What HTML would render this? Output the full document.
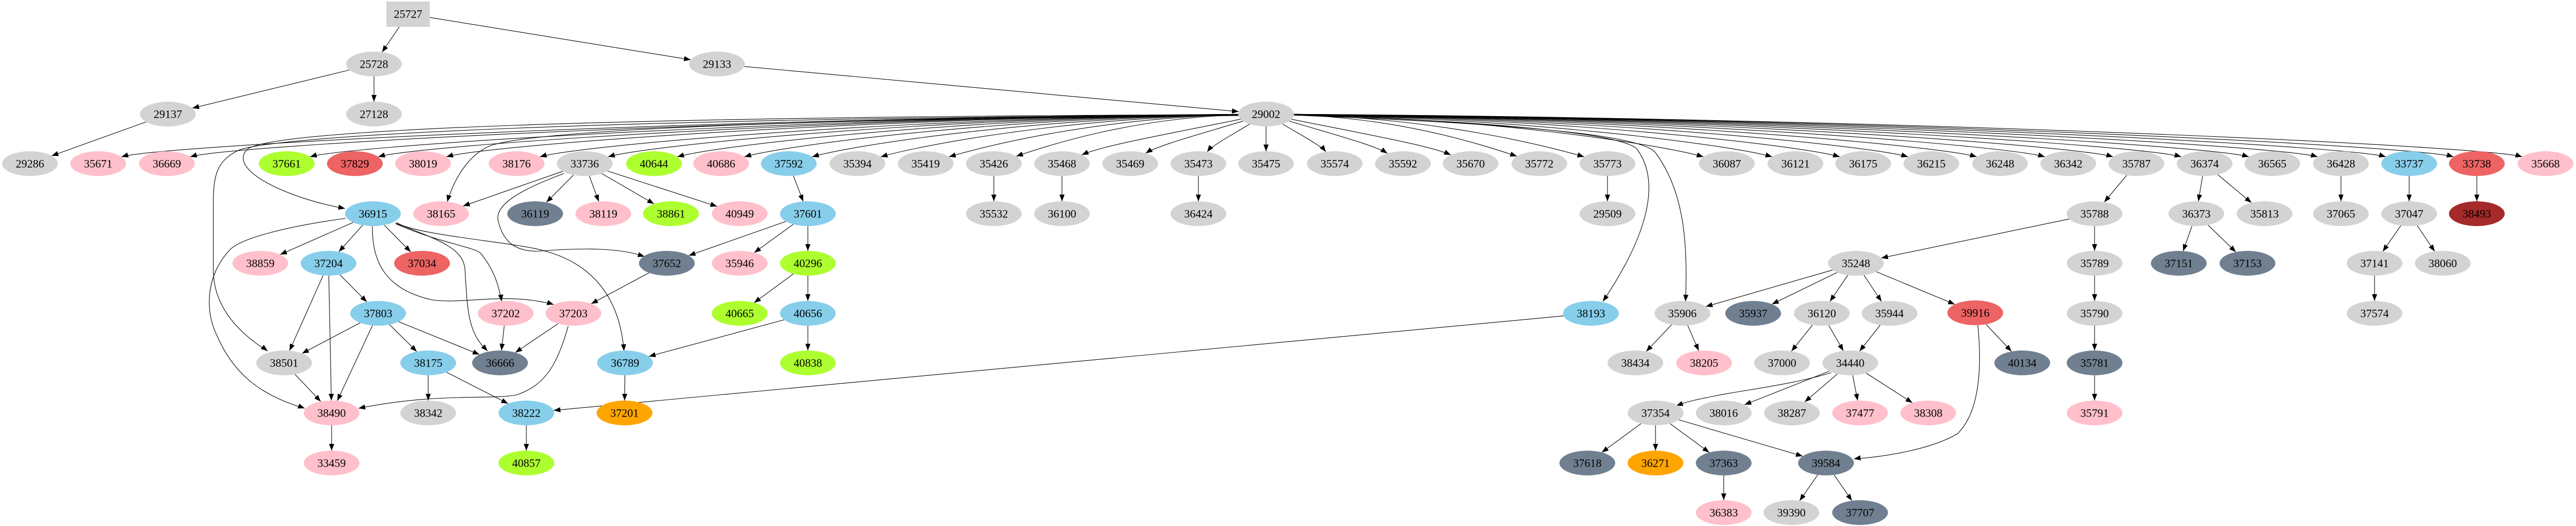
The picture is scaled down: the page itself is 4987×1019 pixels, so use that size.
<!DOCTYPE html>
<html><head><meta charset="utf-8"><style>
html,body{margin:0;padding:0;background:#fff;}
svg{display:block;}
ellipse{rx:54px;ry:24px;}
text{font-family:"Liberation Serif",serif;font-size:22px;text-anchor:middle;dominant-baseline:central;fill:#000;}
</style></head><body>
<svg id="s" width="4987" height="1019" xmlns="http://www.w3.org/2000/svg">
<g id="edges" stroke="#000" stroke-width="1.1" fill="none"></g>
<g id="arrows" fill="#000"></g>
<g id="nodes">
<g id="n25727"><rect x="748" y="3" width="84" height="49" fill="#d3d3d3"/><text x="790" y="27">25727</text></g>
<g id="n25728"><ellipse cx="724" cy="124" fill="#d3d3d3"/><text x="724" y="124">25728</text></g>
<g id="n29133"><ellipse cx="1388" cy="124" fill="#d3d3d3"/><text x="1388" y="124">29133</text></g>
<g id="n29137"><ellipse cx="325" cy="221" fill="#d3d3d3"/><text x="325" y="221">29137</text></g>
<g id="n27128"><ellipse cx="724" cy="221" fill="#d3d3d3"/><text x="724" y="221">27128</text></g>
<g id="n29002"><ellipse cx="2451" cy="221" fill="#d3d3d3"/><text x="2451" y="221">29002</text></g>

<g id="n29286"><ellipse cx="58" cy="317" fill="#d3d3d3"/><text x="58" y="317">29286</text></g>
<g id="n35671"><ellipse cx="190" cy="317" fill="#ffc0cb"/><text x="190" y="317">35671</text></g>
<g id="n36669"><ellipse cx="323" cy="317" fill="#ffc0cb"/><text x="323" y="317">36669</text></g>
<g id="n37661"><ellipse cx="555" cy="317" fill="#adff2f"/><text x="555" y="317">37661</text></g>
<g id="n37829"><ellipse cx="687" cy="317" fill="#ee6363"/><text x="687" y="317">37829</text></g>
<g id="n38019"><ellipse cx="819" cy="317" fill="#ffc0cb"/><text x="819" y="317">38019</text></g>
<g id="n38176"><ellipse cx="1000" cy="317" fill="#ffc0cb"/><text x="1000" y="317">38176</text></g>
<g id="n33736"><ellipse cx="1132" cy="317" fill="#d3d3d3"/><text x="1132" y="317">33736</text></g>
<g id="n40644"><ellipse cx="1266" cy="317" fill="#adff2f"/><text x="1266" y="317">40644</text></g>
<g id="n40686"><ellipse cx="1396" cy="317" fill="#ffc0cb"/><text x="1396" y="317">40686</text></g>
<g id="n37592"><ellipse cx="1527" cy="317" fill="#87ceeb"/><text x="1527" y="317">37592</text></g>
<g id="n35394"><ellipse cx="1660" cy="317" fill="#d3d3d3"/><text x="1660" y="317">35394</text></g>
<g id="n35419"><ellipse cx="1792" cy="317" fill="#d3d3d3"/><text x="1792" y="317">35419</text></g>
<g id="n35426"><ellipse cx="1924" cy="317" fill="#d3d3d3"/><text x="1924" y="317">35426</text></g>
<g id="n35468"><ellipse cx="2056" cy="317" fill="#d3d3d3"/><text x="2056" y="317">35468</text></g>
<g id="n35469"><ellipse cx="2188" cy="317" fill="#d3d3d3"/><text x="2188" y="317">35469</text></g>
<g id="n35473"><ellipse cx="2320" cy="317" fill="#d3d3d3"/><text x="2320" y="317">35473</text></g>
<g id="n35475"><ellipse cx="2451" cy="317" fill="#d3d3d3"/><text x="2451" y="317">35475</text></g>
<g id="n35574"><ellipse cx="2584" cy="317" fill="#d3d3d3"/><text x="2584" y="317">35574</text></g>
<g id="n35592"><ellipse cx="2716" cy="317" fill="#d3d3d3"/><text x="2716" y="317">35592</text></g>
<g id="n35670"><ellipse cx="2847" cy="317" fill="#d3d3d3"/><text x="2847" y="317">35670</text></g>
<g id="n35772"><ellipse cx="2980" cy="317" fill="#d3d3d3"/><text x="2980" y="317">35772</text></g>
<g id="n35773"><ellipse cx="3112" cy="317" fill="#d3d3d3"/><text x="3112" y="317">35773</text></g>
<g id="n36087"><ellipse cx="3343" cy="317" fill="#d3d3d3"/><text x="3343" y="317">36087</text></g>
<g id="n36121"><ellipse cx="3476" cy="317" fill="#d3d3d3"/><text x="3476" y="317">36121</text></g>
<g id="n36175"><ellipse cx="3607" cy="317" fill="#d3d3d3"/><text x="3607" y="317">36175</text></g>
<g id="n36215"><ellipse cx="3739" cy="317" fill="#d3d3d3"/><text x="3739" y="317">36215</text></g>
<g id="n36248"><ellipse cx="3872" cy="317" fill="#d3d3d3"/><text x="3872" y="317">36248</text></g>
<g id="n36342"><ellipse cx="4004" cy="317" fill="#d3d3d3"/><text x="4004" y="317">36342</text></g>
<g id="n35787"><ellipse cx="4136" cy="317" fill="#d3d3d3"/><text x="4136" y="317">35787</text></g>
<g id="n36374"><ellipse cx="4268" cy="317" fill="#d3d3d3"/><text x="4268" y="317">36374</text></g>
<g id="n36565"><ellipse cx="4399" cy="317" fill="#d3d3d3"/><text x="4399" y="317">36565</text></g>
<g id="n36428"><ellipse cx="4532" cy="317" fill="#d3d3d3"/><text x="4532" y="317">36428</text></g>
<g id="n33737"><ellipse cx="4664" cy="317" fill="#87ceeb"/><text x="4664" y="317">33737</text></g>
<g id="n33738"><ellipse cx="4795" cy="317" fill="#ee6363"/><text x="4795" y="317">33738</text></g>
<g id="n35668"><ellipse cx="4928" cy="317" fill="#ffc0cb"/><text x="4928" y="317">35668</text></g>

<g id="n36915"><ellipse cx="722" cy="414" fill="#87ceeb"/><text x="722" y="414">36915</text></g>
<g id="n38165"><ellipse cx="854" cy="414" fill="#ffc0cb"/><text x="854" y="414">38165</text></g>
<g id="n36119"><ellipse cx="1036" cy="414" fill="#708090"/><text x="1036" y="414">36119</text></g>
<g id="n38119"><ellipse cx="1168" cy="414" fill="#ffc0cb"/><text x="1168" y="414">38119</text></g>
<g id="n38861"><ellipse cx="1299" cy="414" fill="#adff2f"/><text x="1299" y="414">38861</text></g>
<g id="n40949"><ellipse cx="1432" cy="414" fill="#ffc0cb"/><text x="1432" y="414">40949</text></g>
<g id="n37601"><ellipse cx="1564" cy="414" fill="#87ceeb"/><text x="1564" y="414">37601</text></g>
<g id="n35532"><ellipse cx="1924" cy="414" fill="#d3d3d3"/><text x="1924" y="414">35532</text></g>
<g id="n36100"><ellipse cx="2056" cy="414" fill="#d3d3d3"/><text x="2056" y="414">36100</text></g>
<g id="n36424"><ellipse cx="2320" cy="414" fill="#d3d3d3"/><text x="2320" y="414">36424</text></g>
<g id="n29509"><ellipse cx="3112" cy="414" fill="#d3d3d3"/><text x="3112" y="414">29509</text></g>
<g id="n35788"><ellipse cx="4055" cy="414" fill="#d3d3d3"/><text x="4055" y="414">35788</text></g>
<g id="n36373"><ellipse cx="4252" cy="414" fill="#d3d3d3"/><text x="4252" y="414">36373</text></g>
<g id="n35813"><ellipse cx="4384" cy="414" fill="#d3d3d3"/><text x="4384" y="414">35813</text></g>
<g id="n37065"><ellipse cx="4532" cy="414" fill="#d3d3d3"/><text x="4532" y="414">37065</text></g>
<g id="n37047"><ellipse cx="4664" cy="414" fill="#d3d3d3"/><text x="4664" y="414">37047</text></g>
<g id="n38493"><ellipse cx="4795" cy="414" fill="#a52a2a"/><text x="4795" y="414">38493</text></g>

<g id="n38859"><ellipse cx="504" cy="510" fill="#ffc0cb"/><text x="504" y="510">38859</text></g>
<g id="n37204"><ellipse cx="636" cy="510" fill="#87ceeb"/><text x="636" y="510">37204</text></g>
<g id="n37034"><ellipse cx="817" cy="510" fill="#ee6363"/><text x="817" y="510">37034</text></g>
<g id="n37652"><ellipse cx="1291" cy="510" fill="#708090"/><text x="1291" y="510">37652</text></g>
<g id="n35946"><ellipse cx="1432" cy="510" fill="#ffc0cb"/><text x="1432" y="510">35946</text></g>
<g id="n40296"><ellipse cx="1564" cy="510" fill="#adff2f"/><text x="1564" y="510">40296</text></g>
<g id="n35248"><ellipse cx="3593" cy="510" fill="#d3d3d3"/><text x="3593" y="510">35248</text></g>
<g id="n35789"><ellipse cx="4055" cy="510" fill="#d3d3d3"/><text x="4055" y="510">35789</text></g>
<g id="n37151"><ellipse cx="4218" cy="510" fill="#708090"/><text x="4218" y="510">37151</text></g>
<g id="n37153"><ellipse cx="4351" cy="510" fill="#708090"/><text x="4351" y="510">37153</text></g>
<g id="n37141"><ellipse cx="4597" cy="510" fill="#d3d3d3"/><text x="4597" y="510">37141</text></g>
<g id="n38060"><ellipse cx="4729" cy="510" fill="#d3d3d3"/><text x="4729" y="510">38060</text></g>

<g id="n37803"><ellipse cx="732" cy="607" fill="#87ceeb"/><text x="732" y="607">37803</text></g>
<g id="n37202"><ellipse cx="979" cy="607" fill="#ffc0cb"/><text x="979" y="607">37202</text></g>
<g id="n37203"><ellipse cx="1110" cy="607" fill="#ffc0cb"/><text x="1110" y="607">37203</text></g>
<g id="n40665"><ellipse cx="1432" cy="607" fill="#adff2f"/><text x="1432" y="607">40665</text></g>
<g id="n40656"><ellipse cx="1564" cy="607" fill="#87ceeb"/><text x="1564" y="607">40656</text></g>
<g id="n38193"><ellipse cx="3080" cy="607" fill="#87ceeb"/><text x="3080" y="607">38193</text></g>
<g id="n35906"><ellipse cx="3257" cy="607" fill="#d3d3d3"/><text x="3257" y="607">35906</text></g>
<g id="n35937"><ellipse cx="3394" cy="607" fill="#708090"/><text x="3394" y="607">35937</text></g>
<g id="n36120"><ellipse cx="3527" cy="607" fill="#d3d3d3"/><text x="3527" y="607">36120</text></g>
<g id="n35944"><ellipse cx="3658" cy="607" fill="#d3d3d3"/><text x="3658" y="607">35944</text></g>
<g id="n39916"><ellipse cx="3824" cy="606" fill="#ee6363"/><text x="3824" y="606">39916</text></g>
<g id="n35790"><ellipse cx="4055" cy="607" fill="#d3d3d3"/><text x="4055" y="607">35790</text></g>
<g id="n37574"><ellipse cx="4597" cy="607" fill="#d3d3d3"/><text x="4597" y="607">37574</text></g>

<g id="n38501"><ellipse cx="550" cy="703" fill="#d3d3d3"/><text x="550" y="703">38501</text></g>
<g id="n38175"><ellipse cx="829" cy="703" fill="#87ceeb"/><text x="829" y="703">38175</text></g>
<g id="n36666"><ellipse cx="968" cy="703" fill="#708090"/><text x="968" y="703">36666</text></g>
<g id="n36789"><ellipse cx="1210" cy="703" fill="#87ceeb"/><text x="1210" y="703">36789</text></g>
<g id="n40838"><ellipse cx="1564" cy="703" fill="#adff2f"/><text x="1564" y="703">40838</text></g>
<g id="n38434"><ellipse cx="3166" cy="703" fill="#d3d3d3"/><text x="3166" y="703">38434</text></g>
<g id="n38205"><ellipse cx="3299" cy="703" fill="#ffc0cb"/><text x="3299" y="703">38205</text></g>
<g id="n37000"><ellipse cx="3450" cy="703" fill="#d3d3d3"/><text x="3450" y="703">37000</text></g>
<g id="n34440"><ellipse cx="3582" cy="703" fill="#d3d3d3"/><text x="3582" y="703">34440</text></g>
<g id="n40134"><ellipse cx="3915" cy="703" fill="#708090"/><text x="3915" y="703">40134</text></g>
<g id="n35781"><ellipse cx="4055" cy="703" fill="#708090"/><text x="4055" y="703">35781</text></g>

<g id="n38490"><ellipse cx="642" cy="800" fill="#ffc0cb"/><text x="642" y="800">38490</text></g>
<g id="n38342"><ellipse cx="829" cy="800" fill="#d3d3d3"/><text x="829" y="800">38342</text></g>
<g id="n38222"><ellipse cx="1019" cy="800" fill="#87ceeb"/><text x="1019" y="800">38222</text></g>
<g id="n37201"><ellipse cx="1209" cy="800" fill="#ffa500"/><text x="1209" y="800">37201</text></g>
<g id="n37354"><ellipse cx="3205" cy="800" fill="#d3d3d3"/><text x="3205" y="800">37354</text></g>
<g id="n38016"><ellipse cx="3337" cy="800" fill="#d3d3d3"/><text x="3337" y="800">38016</text></g>
<g id="n38287"><ellipse cx="3469" cy="800" fill="#d3d3d3"/><text x="3469" y="800">38287</text></g>
<g id="n37477"><ellipse cx="3601" cy="800" fill="#ffc0cb"/><text x="3601" y="800">37477</text></g>
<g id="n38308"><ellipse cx="3733" cy="800" fill="#ffc0cb"/><text x="3733" y="800">38308</text></g>
<g id="n35791"><ellipse cx="4055" cy="800" fill="#ffc0cb"/><text x="4055" y="800">35791</text></g>

<g id="n33459"><ellipse cx="642" cy="897" fill="#ffc0cb"/><text x="642" y="897">33459</text></g>
<g id="n40857"><ellipse cx="1019" cy="897" fill="#adff2f"/><text x="1019" y="897">40857</text></g>
<g id="n37618"><ellipse cx="3073" cy="897" fill="#708090"/><text x="3073" y="897">37618</text></g>
<g id="n36271"><ellipse cx="3205" cy="897" fill="#ffa500"/><text x="3205" y="897">36271</text></g>
<g id="n37363"><ellipse cx="3337" cy="897" fill="#708090"/><text x="3337" y="897">37363</text></g>
<g id="n39584"><ellipse cx="3535" cy="897" fill="#708090"/><text x="3535" y="897">39584</text></g>

<g id="n36383"><ellipse cx="3337" cy="993" fill="#ffc0cb"/><text x="3337" y="993">36383</text></g>
<g id="n39390"><ellipse cx="3468" cy="993" fill="#d3d3d3"/><text x="3468" y="993">39390</text></g>
<g id="n37707"><ellipse cx="3601" cy="993" fill="#708090"/><text x="3601" y="993">37707</text></g>
</g>
</svg>
<script>
(function(){
var NS="http://www.w3.org/2000/svg";
var eg=document.getElementById("edges"), ag=document.getElementById("arrows");
function P(id){var g=document.getElementById("n"+id);var e=g.querySelector("ellipse");
 if(e)return{x:+e.getAttribute("cx"),y:+e.getAttribute("cy"),rx:54,ry:24};
 return{x:790,y:27,rx:42,ry:24.5,box:1};}
function bnd(n,dx,dy){if(n.box){var t=Math.min(n.rx/Math.abs(dx||1e-9),n.ry/Math.abs(dy||1e-9));return[n.x+dx*t,n.y+dy*t];}
 var t=1/Math.sqrt((dx/n.rx)*(dx/n.rx)+(dy/n.ry)*(dy/n.ry));return[n.x+dx*t,n.y+dy*t];}
function arrow(tx,ty,fx,fy){var dx=tx-fx,dy=ty-fy,l=Math.sqrt(dx*dx+dy*dy)||1;dx/=l;dy/=l;
 var bx=tx-dx*13,by=ty-dy*13,nx=-dy*5,ny=dx*5;
 var p=document.createElementNS(NS,"polygon");p.setAttribute("points",tx+","+ty+" "+(bx+nx)+","+(by+ny)+" "+(bx-nx)+","+(by-ny));ag.appendChild(p);}
function path(d){var p=document.createElementNS(NS,"path");p.setAttribute("d",d);eg.appendChild(p);}
function line(a,b){var A=P(a),B=P(b);var s=bnd(A,B.x-A.x,B.y-A.y),e=bnd(B,A.x-B.x,A.y-B.y);
 path("M"+s[0]+","+s[1]+"L"+e[0]+","+e[1]);arrow(e[0],e[1],s[0],s[1]);}
// fan from 29002
var S=P("29002");
var fan="35671 36669 37661 37829 38019 38176 33736 40644 40686 37592 35394 35419 35426 35468 35469 35473 35475 35574 35592 35670 35772 35773 36087 36121 36175 36215 36248 36342 35787 36374 36565 36428 33737 33738 35668".split(" ");
fan.forEach(function(id){var T=P(id);var dx=T.x-S.x;
 if(Math.abs(dx)<5){line("29002",id);return;}
 var c1=[S.x+dx*0.5,S.y+(Math.abs(dx)<400?40:8)];
 var sg=dx<0?-1:1;var off=Math.min(Math.abs(dx)*0.2,120);
 var c2=[T.x-sg*off,T.y-35];
 var s=bnd(S,c1[0]-S.x,c1[1]-S.y);var e=bnd(T,c2[0]-T.x,c2[1]-T.y);
 path("M"+s[0]+","+s[1]+"C"+c1[0]+","+c1[1]+" "+c2[0]+","+c2[1]+" "+e[0]+","+e[1]);arrow(e[0],e[1],c2[0],c2[1]);});
// custom curves [d, tip, from]
var C=[
["M2398,222 C1200,226 520,250 478,290 C440,330 560,385 668,404",[668,404],[600,390]],
["M2398,223 C1200,228 520,262 460,292 C420,312 413,340 413,392 L413,522 C413,600 470,650 518,680",[518,680],[480,650]],
["M2398,224 C1300,232 1010,262 950,282 C905,300 878,350 866,391",[866,391],[874,360]],
["M2500,222 C2900,235 3150,260 3170,290 C3220,360 3180,470 3103,584",[3103,584],[3130,545]],
["M2500,223 C2950,240 3180,262 3205,296 C3260,370 3268,470 3263,584",[3263,584],[3265,550]],
["M669,423 C560,438 470,460 446,483 C400,530 395,600 420,650 C450,720 500,765 590,791",[590,791],[560,780]],
["M721,438 C720,500 740,560 837,581 C900,590 980,565 1072,590",[1072,590],[1040,580]],
["M765,432 C850,465 895,480 900,520 C905,600 905,645 944,680",[944,680],[925,660]],
["M767,434 C850,470 915,478 930,490 C955,520 965,550 971,584",[971,584],[968,560]],
["M768,431 C800,455 1000,470 1050,485 C1150,510 1200,580 1208,680",[1208,680],[1206,650]],
["M1092,336 C1000,370 955,400 965,430 C975,470 1000,490 1050,486 C1130,480 1200,480 1248,497",[1248,497],[1215,487]],
["M1100,632 C1080,700 1060,745 1000,765 C950,775 850,760 694,791",[694,791],[730,784]],
["M3829,630 C3838,720 3830,800 3790,840 C3740,870 3650,885 3589,889",[3589,889],[3620,884]],
["M3545,722 C3470,745 3380,755 3320,767 C3290,773 3265,778 3245,786",[3245,786],[3265,779]]
];
C.forEach(function(c){path(c[0]);arrow(c[1][0],c[1][1],c[2][0],c[2][1]);});
var L=["25727 25728","25727 29133","25728 29137","25728 27128","29137 29286","29133 29002",
"33736 38165","33736 36119","33736 38119","33736 38861","33736 40949",
"37592 37601","37601 37652","37601 35946","37601 40296","40296 40665","40296 40656","40656 40838","40656 36789",
"37652 37203","36915 38859","36915 37204","36915 37034",
"37204 38501","37204 38490","37204 37803","37803 38501","37803 38490","37803 38175","37803 36666",
"37202 36666","37203 36666","38501 38490","38175 38342","38175 38222","38222 40857","36789 37201","38193 38222","38490 33459",
"35426 35532","35468 36100","35473 36424","35773 29509",
"35787 35788","35788 35248","35788 35789","35789 35790","35790 35781","35781 35791",
"36374 36373","36374 35813","36373 37151","36373 37153","36428 37065","33737 37047","37047 37141","37047 38060","37141 37574","33738 38493",
"35248 35906","35248 35937","35248 36120","35248 35944","35248 39916",
"35906 38434","35906 38205","36120 37000","36120 34440","35944 34440",
"34440 38016","34440 38287","34440 37477","34440 38308",
"37354 37618","37354 36271","37354 37363","37354 39584","37363 36383","39584 39390","39584 37707","39916 40134"];
L.forEach(function(s){var a=s.split(" ");line(a[0],a[1]);});
})();
</script>
</body></html>
